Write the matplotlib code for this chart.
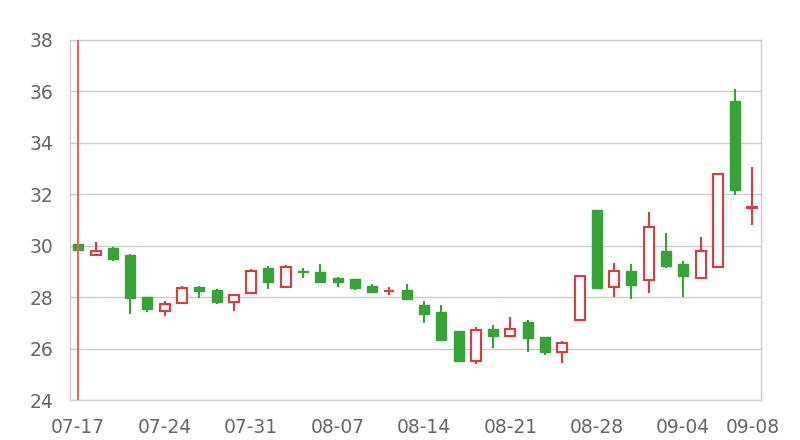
import matplotlib
matplotlib.use("Agg")
import matplotlib.pyplot as plt
import pandas as pd

# trading days 07-17 .. 09-08
dates = pd.bdate_range("2017-07-17", "2017-09-08")
labels = [d.strftime("%m-%d") for d in dates]

opens = [30.07, 29.65, 29.92, 29.65, 28.00, 27.45, 27.77, 28.40, 28.28, 27.80,
         28.17, 29.15, 28.38, 29.00, 28.97, 28.76, 28.70, 28.42, 28.22, 28.28,
         27.70, 27.43, 26.70, 25.50, 26.75, 26.50, 27.05, 26.46, 25.87, 27.11,
         31.40, 28.41, 29.02, 28.65, 29.80, 29.30, 28.76, 29.16, 35.62, 31.46]
closes = [29.83, 29.80, 29.48, 27.95, 27.55, 27.72, 28.37, 28.25, 27.80, 28.08,
          29.03, 28.60, 29.16, 28.97, 28.58, 28.60, 28.34, 28.20, 28.25, 27.93,
          27.35, 26.33, 25.50, 26.72, 26.47, 26.75, 26.42, 25.85, 26.20, 28.82,
          28.35, 29.03, 28.46, 30.74, 29.22, 28.82, 29.81, 32.80, 32.17, 31.50]
highs = [30.10, 30.16, 29.95, 29.67, 28.00, 27.85, 28.42, 28.45, 28.30, 28.10,
         29.08, 29.20, 29.25, 29.12, 29.28, 28.78, 28.72, 28.52, 28.38, 28.52,
         27.86, 27.70, 26.70, 26.82, 26.92, 27.22, 27.10, 26.46, 26.30, 28.82,
         31.40, 29.31, 29.28, 31.33, 30.51, 29.42, 30.35, 32.80, 36.08, 33.07]
lows = [29.60, 29.65, 29.42, 27.35, 27.42, 27.28, 27.77, 27.98, 27.72, 27.47,
        28.17, 28.32, 28.38, 28.76, 28.55, 28.38, 28.28, 28.15, 28.10, 27.89,
        26.98, 26.33, 25.50, 25.40, 26.03, 26.50, 25.88, 25.75, 25.45, 27.11,
        28.34, 27.99, 27.92, 28.15, 29.12, 28.00, 28.76, 29.16, 31.97, 30.80]

yticks = [24, 26, 28, 30, 32, 34, 36, 38]
xtick_idx = [0, 5, 10, 15, 20, 25, 30, 35, 39]

up_color = "#e5383b"
down_color = "#36a336"

fig = plt.figure(figsize=(8, 4.4), dpi=100)
ax = fig.add_axes([0.0875, 0.0909, 0.8638, 0.8182])

x = list(range(len(opens)))

# marker line on the first day
ax.axvline(0, color="#ef6262", lw=1.5, zorder=5)

for i in x:
    o, c, h, l = opens[i], closes[i], highs[i], lows[i]
    up = c >= o
    col = up_color if up else down_color
    ax.vlines(i, l, h, color=col, lw=1.5, zorder=2)
    bottom = min(o, c)
    height = max(abs(c - o), 0.02)
    if up:
        ax.bar(i, height, bottom=bottom, width=0.58, facecolor="white",
               edgecolor=col, lw=1.5, zorder=3)
    else:
        ax.bar(i, height, bottom=bottom, width=0.58, facecolor=col,
               edgecolor=col, lw=1.0, zorder=3)

ax.set_xlim(-0.48, 39.5)
ax.set_ylim(24, 38)
ax.set_yticks(yticks)
ax.set_xticks(xtick_idx)
ax.set_xticklabels([labels[i] for i in xtick_idx])

ax.grid(axis="y", color="#cccccc", lw=1)
ax.set_axisbelow(True)
for s in ax.spines.values():
    s.set_color("#cccccc")
    s.set_linewidth(1)

ax.tick_params(axis="both", length=0, colors="#666666", labelsize=13.5)
ax.tick_params(axis="x", pad=13)
ax.tick_params(axis="y", pad=12)

plt.savefig("out.png", dpi=100)
